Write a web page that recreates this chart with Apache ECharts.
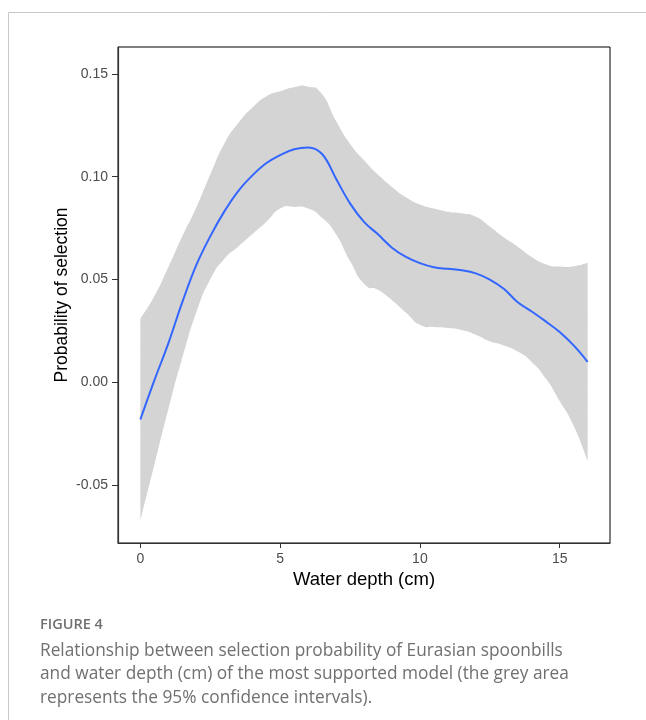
<!DOCTYPE html>
<html><head><meta charset="utf-8">
<script src="https://cdn.jsdelivr.net/npm/echarts@6/dist/echarts.min.js"></script>
<style>html,body{margin:0;padding:0;background:#fff}#c{width:646px;height:720px}</style>
</head><body><div id="c"></div>
<script>
const depth = [0,0.5,1,1.5,2,2.5,3,3.5,4,4.5,5,5.5,6,6.5,7,7.5,8,8.5,9,9.5,10,10.5,11,11.5,12,12.5,13,13.5,14,14.5,15,15.5,16];
const fit = [-0.018,0.001,0.019,0.039,0.057,0.071,0.083,0.093,0.1005,0.1065,0.1105,0.1133,0.1142,0.111,0.099,0.087,0.078,0.072,0.0655,0.061,0.058,0.056,0.0552,0.0545,0.053,0.050,0.0455,0.039,0.0345,0.0297,0.0245,0.018,0.010];
const upper = [0.031,0.042,0.056,0.071,0.085,0.101,0.116,0.126,0.1335,0.1390,0.1415,0.1435,0.1437,0.140,0.127,0.116,0.108,0.101,0.095,0.090,0.0865,0.0845,0.083,0.0822,0.0805,0.0758,0.0705,0.066,0.061,0.0575,0.0563,0.0565,0.058];
const lower = [-0.067,-0.040,-0.013,0.012,0.034,0.050,0.060,0.066,0.072,0.078,0.0845,0.0853,0.0845,0.080,0.072,0.059,0.048,0.045,0.040,0.034,0.028,0.027,0.0265,0.0255,0.0232,0.020,0.018,0.015,0.010,0.002,-0.009,-0.021,-0.038];
const xTicks = [0,5,10,15];
const yTicks = [-0.05,0,0.05,0.10,0.15];

const chart = echarts.init(document.getElementById('c'), null, {renderer:'canvas'});
const bandData = depth.map((d,i)=>[d, lower[i], upper[i]]);
const fitData = depth.map((d,i)=>[d, fit[i]]);
const axisFont = 'Liberation Sans';

// smooth path through pixel points (cardinal spline), used only for rendering
function smoothSeg(pts, t, moveFirst){
  let s = '';
  for(let i=0;i<pts.length;i++){
    const p = pts[i];
    if(i===0){ s += (moveFirst?'M':'L') + p[0] + ' ' + p[1] + ' '; continue; }
    const p0 = pts[Math.max(i-2,0)], p1 = pts[i-1], p3 = pts[Math.min(i+1,pts.length-1)];
    const c1 = [p1[0] + (p[0]-p0[0])*t/2, p1[1] + (p[1]-p0[1])*t/2];
    const c2 = [p[0] - (p3[0]-p1[0])*t/2, p[1] - (p3[1]-p1[1])*t/2];
    s += 'C' + c1[0]+' '+c1[1]+' '+c2[0]+' '+c2[1]+' '+p[0]+' '+p[1]+' ';
  }
  return s;
}

chart.setOption({
  animation:false,
  grid:{left:118, top:47, right:36, bottom:177, show:true, borderColor:'#000', borderWidth:1},
  xAxis:{type:'value', min:-0.8, max:16.8,
    name:'Water depth (cm)', nameLocation:'middle', nameGap:27, nameMoveOverlap:false,
    nameTextStyle:{fontFamily:axisFont, fontSize:18.5, color:'#000'},
    axisLine:{show:true, onZero:false, lineStyle:{color:'#333', width:1.2}},
    axisTick:{show:true, length:5, customValues:xTicks, lineStyle:{color:'#333'}},
    axisLabel:{customValues:xTicks, fontFamily:axisFont, fontSize:14, color:'#4d4d4d', margin:9},
    splitLine:{show:false}},
  yAxis:{type:'value', min:-0.078, max:0.163,
    name:'Probability of selection', nameLocation:'middle', nameGap:47, nameRotate:90, nameMoveOverlap:false,
    nameTextStyle:{fontFamily:axisFont, fontSize:17.5, color:'#000'},
    axisLine:{show:true, onZero:false, lineStyle:{color:'#333', width:1.2}},
    axisTick:{show:true, length:6, customValues:yTicks, lineStyle:{color:'#333'}},
    axisLabel:{customValues:yTicks, fontFamily:axisFont, fontSize:14, color:'#4d4d4d', margin:10,
      formatter:v=>Number(v).toFixed(2)},
    splitLine:{show:false}},
  series:[
    {type:'custom', data:bandData, silent:true, z:1,
      encode:{x:0, y:[1,2]},
      renderItem:function(params, api){
        if(params.dataIndex!==0) return null;
        const top = [], bot = [];
        for(let i=0;i<depth.length;i++){
          top.push(api.coord([depth[i], upper[i]]));
          bot.push(api.coord([depth[i], lower[i]]));
        }
        bot.reverse();
        const d = smoothSeg(top, 0.6, true) + smoothSeg(bot, 0.6, false) + 'Z';
        return {type:'path', shape:{pathData:d}, style:{fill:'#d4d4d4', stroke:null}};
      }},
    {type:'line', data:fitData, symbol:'none', smooth:0.4,
      lineStyle:{color:'#3366FF', width:2}, z:3}
  ],
  graphic:[
    {type:'line', shape:{x1:8.5,y1:12.5,x2:646,y2:12.5}, style:{stroke:'#c8c8c8', lineWidth:1}},
    {type:'line', shape:{x1:8.5,y1:12.5,x2:8.5,y2:720}, style:{stroke:'#c8c8c8', lineWidth:1}},
    {type:'text', left:40, top:617, style:{text:'FIGURE 4', font:'600 14.5px "Open Sans"', fill:'#707070'}},
    {type:'text', left:40, top:639, style:{text:'Relationship between selection probability of Eurasian spoonbills\nand water depth (cm) of the most supported model (the grey area\nrepresents the 95% confidence intervals).', font:'17.3px "Open Sans"', fill:'#707070', lineHeight:23.5}}
  ]
});
</script></body></html>
